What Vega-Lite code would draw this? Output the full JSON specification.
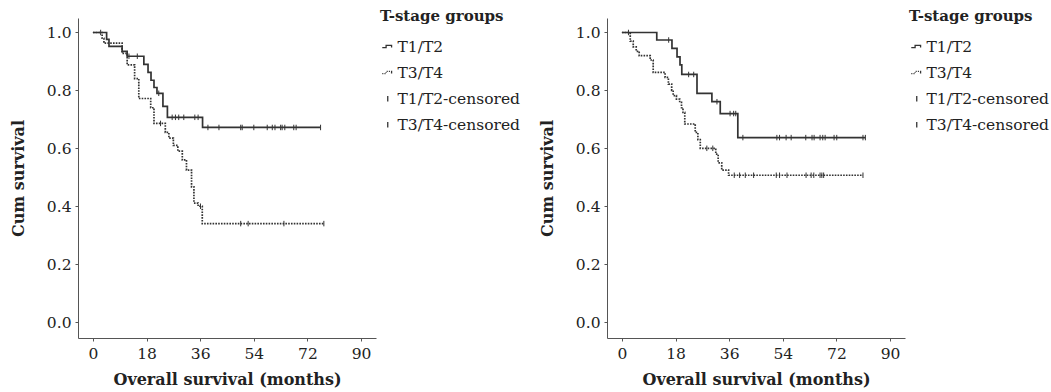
{
  "$schema": "https://vega.github.io/schema/vega-lite/v6.json",
  "padding": {"left": 10, "top": 9, "right": 0, "bottom": 5},
  "spacing": 19,
  "config": {
    "view": {"stroke": null},
    "font": "DejaVu Serif",
    "axis": {
      "grid": false, "domainColor": "#555", "tickColor": "#555", "tickSize": 3,
      "labelFont": "DejaVu Serif", "labelFontSize": 15.5, "labelColor": "#222",
      "titleFont": "DejaVu Serif", "titleFontSize": 16, "titleFontWeight": "bold", "titleColor": "#222"
    }
  },
  "datasets": {
    "curves": [
      {"p":"A","g":"T1/T2","t":0,"s":1},{"p":"A","g":"T1/T2","t":4.6,"s":0.976},{"p":"A","g":"T1/T2","t":5.4,"s":0.952},{"p":"A","g":"T1/T2","t":9.8,"s":0.935},{"p":"A","g":"T1/T2","t":11.5,"s":0.918},{"p":"A","g":"T1/T2","t":17.1,"s":0.89},{"p":"A","g":"T1/T2","t":18.5,"s":0.862},{"p":"A","g":"T1/T2","t":19.5,"s":0.835},{"p":"A","g":"T1/T2","t":20.5,"s":0.81},{"p":"A","g":"T1/T2","t":21.5,"s":0.79},{"p":"A","g":"T1/T2","t":23.5,"s":0.745},{"p":"A","g":"T1/T2","t":25,"s":0.707},{"p":"A","g":"T1/T2","t":36.8,"s":0.672},{"p":"A","g":"T1/T2","t":76.4,"s":0.672},
      {"p":"A","g":"T3/T4","t":0,"s":1},{"p":"A","g":"T3/T4","t":3.1,"s":0.98},{"p":"A","g":"T3/T4","t":3.7,"s":0.963},{"p":"A","g":"T3/T4","t":9.8,"s":0.928},{"p":"A","g":"T3/T4","t":11.5,"s":0.888},{"p":"A","g":"T3/T4","t":14,"s":0.841},{"p":"A","g":"T3/T4","t":15.4,"s":0.772},{"p":"A","g":"T3/T4","t":19.4,"s":0.74},{"p":"A","g":"T3/T4","t":20.5,"s":0.686},{"p":"A","g":"T3/T4","t":24.3,"s":0.655},{"p":"A","g":"T3/T4","t":25.5,"s":0.635},{"p":"A","g":"T3/T4","t":27,"s":0.61},{"p":"A","g":"T3/T4","t":28.5,"s":0.59},{"p":"A","g":"T3/T4","t":30,"s":0.56},{"p":"A","g":"T3/T4","t":31.4,"s":0.525},{"p":"A","g":"T3/T4","t":33.1,"s":0.467},{"p":"A","g":"T3/T4","t":33.9,"s":0.411},{"p":"A","g":"T3/T4","t":35.3,"s":0.4},{"p":"A","g":"T3/T4","t":36.7,"s":0.34},{"p":"A","g":"T3/T4","t":77.5,"s":0.34},
      {"p":"B","g":"T1/T2","t":0,"s":1},{"p":"B","g":"T1/T2","t":11.7,"s":0.974},{"p":"B","g":"T1/T2","t":16.8,"s":0.945},{"p":"B","g":"T1/T2","t":18.5,"s":0.916},{"p":"B","g":"T1/T2","t":19.5,"s":0.888},{"p":"B","g":"T1/T2","t":20.1,"s":0.855},{"p":"B","g":"T1/T2","t":25.2,"s":0.79},{"p":"B","g":"T1/T2","t":30.2,"s":0.761},{"p":"B","g":"T1/T2","t":33,"s":0.72},{"p":"B","g":"T1/T2","t":38.9,"s":0.637},{"p":"B","g":"T1/T2","t":81.7,"s":0.637},
      {"p":"B","g":"T3/T4","t":0,"s":1},{"p":"B","g":"T3/T4","t":2.8,"s":0.97},{"p":"B","g":"T3/T4","t":3.8,"s":0.95},{"p":"B","g":"T3/T4","t":4.8,"s":0.935},{"p":"B","g":"T3/T4","t":5.8,"s":0.92},{"p":"B","g":"T3/T4","t":9.5,"s":0.905},{"p":"B","g":"T3/T4","t":10.5,"s":0.862},{"p":"B","g":"T3/T4","t":14.5,"s":0.845},{"p":"B","g":"T3/T4","t":15.6,"s":0.822},{"p":"B","g":"T3/T4","t":16.7,"s":0.8},{"p":"B","g":"T3/T4","t":17.2,"s":0.782},{"p":"B","g":"T3/T4","t":18.3,"s":0.77},{"p":"B","g":"T3/T4","t":19.4,"s":0.759},{"p":"B","g":"T3/T4","t":20,"s":0.74},{"p":"B","g":"T3/T4","t":20.5,"s":0.724},{"p":"B","g":"T3/T4","t":21.1,"s":0.684},{"p":"B","g":"T3/T4","t":24.6,"s":0.655},{"p":"B","g":"T3/T4","t":25.5,"s":0.63},{"p":"B","g":"T3/T4","t":26.3,"s":0.6},{"p":"B","g":"T3/T4","t":31.5,"s":0.58},{"p":"B","g":"T3/T4","t":32.3,"s":0.55},{"p":"B","g":"T3/T4","t":33.5,"s":0.525},{"p":"B","g":"T3/T4","t":35.8,"s":0.507},{"p":"B","g":"T3/T4","t":80.9,"s":0.507}
    ],
    "cens": [
      {"p":"A","g":"T1/T2-censored","t":2.6,"s":1},{"p":"A","g":"T1/T2-censored","t":12.1,"s":0.918},{"p":"A","g":"T1/T2-censored","t":14.9,"s":0.918},{"p":"A","g":"T1/T2-censored","t":22.1,"s":0.79},
      {"p":"A","g":"T1/T2-censored","t":26.6,"s":0.707},{"p":"A","g":"T1/T2-censored","t":27.7,"s":0.707},{"p":"A","g":"T1/T2-censored","t":28.8,"s":0.707},{"p":"A","g":"T1/T2-censored","t":30.5,"s":0.707},{"p":"A","g":"T1/T2-censored","t":34.2,"s":0.707},{"p":"A","g":"T1/T2-censored","t":35.3,"s":0.707},
      {"p":"A","g":"T1/T2-censored","t":38.6,"s":0.672},{"p":"A","g":"T1/T2-censored","t":42.3,"s":0.672},{"p":"A","g":"T1/T2-censored","t":49.6,"s":0.672},{"p":"A","g":"T1/T2-censored","t":50.1,"s":0.672},{"p":"A","g":"T1/T2-censored","t":54,"s":0.672},{"p":"A","g":"T1/T2-censored","t":58.5,"s":0.672},{"p":"A","g":"T1/T2-censored","t":60.2,"s":0.672},{"p":"A","g":"T1/T2-censored","t":61.1,"s":0.672},{"p":"A","g":"T1/T2-censored","t":63,"s":0.672},{"p":"A","g":"T1/T2-censored","t":63.5,"s":0.672},{"p":"A","g":"T1/T2-censored","t":64.4,"s":0.672},{"p":"A","g":"T1/T2-censored","t":67.4,"s":0.672},{"p":"A","g":"T1/T2-censored","t":68.2,"s":0.672},{"p":"A","g":"T1/T2-censored","t":76.4,"s":0.672},
      {"p":"A","g":"T3/T4-censored","t":22.7,"s":0.686},{"p":"A","g":"T3/T4-censored","t":36.1,"s":0.4},{"p":"A","g":"T3/T4-censored","t":49.6,"s":0.34},{"p":"A","g":"T3/T4-censored","t":52.1,"s":0.34},{"p":"A","g":"T3/T4-censored","t":64.1,"s":0.34},{"p":"A","g":"T3/T4-censored","t":77.5,"s":0.34},
      {"p":"B","g":"T1/T2-censored","t":2.2,"s":1},{"p":"B","g":"T1/T2-censored","t":15.7,"s":0.974},{"p":"B","g":"T1/T2-censored","t":22.4,"s":0.855},{"p":"B","g":"T1/T2-censored","t":24.1,"s":0.855},{"p":"B","g":"T1/T2-censored","t":31.9,"s":0.761},{"p":"B","g":"T1/T2-censored","t":36.3,"s":0.72},{"p":"B","g":"T1/T2-censored","t":37.5,"s":0.72},{"p":"B","g":"T1/T2-censored","t":38.2,"s":0.72},
      {"p":"B","g":"T1/T2-censored","t":40.6,"s":0.637},{"p":"B","g":"T1/T2-censored","t":52,"s":0.637},{"p":"B","g":"T1/T2-censored","t":52.9,"s":0.637},{"p":"B","g":"T1/T2-censored","t":55.1,"s":0.637},{"p":"B","g":"T1/T2-censored","t":56.8,"s":0.637},{"p":"B","g":"T1/T2-censored","t":61.7,"s":0.637},{"p":"B","g":"T1/T2-censored","t":63.8,"s":0.637},{"p":"B","g":"T1/T2-censored","t":64.5,"s":0.637},{"p":"B","g":"T1/T2-censored","t":66.5,"s":0.637},{"p":"B","g":"T1/T2-censored","t":67.4,"s":0.637},{"p":"B","g":"T1/T2-censored","t":68.2,"s":0.637},{"p":"B","g":"T1/T2-censored","t":71.2,"s":0.637},{"p":"B","g":"T1/T2-censored","t":72.1,"s":0.637},{"p":"B","g":"T1/T2-censored","t":80.9,"s":0.637},{"p":"B","g":"T1/T2-censored","t":81.7,"s":0.637},
      {"p":"B","g":"T3/T4-censored","t":28.5,"s":0.6},{"p":"B","g":"T3/T4-censored","t":30.5,"s":0.6},{"p":"B","g":"T3/T4-censored","t":37.7,"s":0.507},{"p":"B","g":"T3/T4-censored","t":39.5,"s":0.507},{"p":"B","g":"T3/T4-censored","t":41.4,"s":0.507},{"p":"B","g":"T3/T4-censored","t":44.2,"s":0.507},{"p":"B","g":"T3/T4-censored","t":51.8,"s":0.507},{"p":"B","g":"T3/T4-censored","t":52.9,"s":0.507},{"p":"B","g":"T3/T4-censored","t":55.4,"s":0.507},{"p":"B","g":"T3/T4-censored","t":61.8,"s":0.507},{"p":"B","g":"T3/T4-censored","t":63.5,"s":0.507},{"p":"B","g":"T3/T4-censored","t":64.4,"s":0.507},{"p":"B","g":"T3/T4-censored","t":66.5,"s":0.507},{"p":"B","g":"T3/T4-censored","t":67.1,"s":0.507},{"p":"B","g":"T3/T4-censored","t":67.7,"s":0.507},{"p":"B","g":"T3/T4-censored","t":80.9,"s":0.507}
    ]
  },
  "hconcat": [
    {
      "width": 298, "height": 320,
      "layer": [
        {
          "data": {"name": "curves"},
          "transform": [{"filter": "datum.p == 'A'"}],
          "mark": {"type": "line", "interpolate": "step-after", "color": "#333", "strokeWidth": 1.7},
          "encoding": {
            "x": {"field": "t", "type": "quantitative", "scale": {"domain": [-5, 95], "nice": false, "zero": false}, "axis": {"values": [0,18,36,54,72,90], "labelPadding": 5, "titlePadding": 10}, "title": "Overall survival (months)"},
            "y": {"field": "s", "type": "quantitative", "scale": {"domain": [-0.055, 1.05], "nice": false, "zero": false}, "axis": {"values": [0,0.2,0.4,0.6,0.8,1.0], "format": ".1f", "labelPadding": 4, "titlePadding": 20}, "title": "Cum survival"},
            "strokeDash": {"field": "g", "type": "nominal", "scale": {"domain": ["T1/T2","T3/T4"], "range": [[10,0],[1.6,1.2]]}, "legend": null}
          }
        },
        {
          "data": {"name": "cens"},
          "transform": [{"filter": "datum.p == 'A'"}],
          "mark": {"type": "point", "filled": false, "color": "#333", "size": 30, "strokeWidth": 1, "opacity": 1},
          "encoding": {
            "x": {"field": "t", "type": "quantitative"},
            "y": {"field": "s", "type": "quantitative"},
            "shape": {"field": "g", "type": "nominal",
              "scale": {"domain": ["T1/T2","T3/T4","T1/T2-censored","T3/T4-censored"], "range": ["M-2,0.3L-0.6,0.3L-0.6,-0.5L1.4,-0.5L1.4,0.3","M-2,0.3H-1.6M-1.2,0.3H-0.8M-0.6,0.1V-0.2M-0.4,-0.5H0M0.4,-0.5H0.8M1.2,-0.5H1.4V0.3","M0,-1L0,1","M0,-1L0,1"]},
              "legend": {"title": "T-stage groups", "orient": "none", "legendX": 302, "legendY": -9,
                "titleFont": "DejaVu Serif", "titleFontSize": 15, "titleFontWeight": "bold", "titleColor": "#222", "titlePadding": 15,
                "labelFont": "DejaVu Serif", "labelFontSize": 15.5, "labelColor": "#222", "labelOffset": 2, "rowPadding": 9,
                "symbolSize": 30, "symbolStrokeColor": "#333", "symbolStrokeWidth": 1.3}
            }
          }
        }
      ]
    },
    {
      "width": 298, "height": 320,
      "layer": [
        {
          "data": {"name": "curves"},
          "transform": [{"filter": "datum.p == 'B'"}],
          "mark": {"type": "line", "interpolate": "step-after", "color": "#333", "strokeWidth": 1.7},
          "encoding": {
            "x": {"field": "t", "type": "quantitative", "scale": {"domain": [-5, 95], "nice": false, "zero": false}, "axis": {"values": [0,18,36,54,72,90], "labelPadding": 5, "titlePadding": 10}, "title": "Overall survival (months)"},
            "y": {"field": "s", "type": "quantitative", "scale": {"domain": [-0.055, 1.05], "nice": false, "zero": false}, "axis": {"values": [0,0.2,0.4,0.6,0.8,1.0], "format": ".1f", "labelPadding": 4, "titlePadding": 20}, "title": "Cum survival"},
            "strokeDash": {"field": "g", "type": "nominal", "scale": {"domain": ["T1/T2","T3/T4"], "range": [[10,0],[1.6,1.2]]}, "legend": null}
          }
        },
        {
          "data": {"name": "cens"},
          "transform": [{"filter": "datum.p == 'B'"}],
          "mark": {"type": "point", "filled": false, "color": "#333", "size": 30, "strokeWidth": 1, "opacity": 1},
          "encoding": {
            "x": {"field": "t", "type": "quantitative"},
            "y": {"field": "s", "type": "quantitative"},
            "shape": {"field": "g", "type": "nominal",
              "scale": {"domain": ["T1/T2","T3/T4","T1/T2-censored","T3/T4-censored"], "range": ["M-2,0.3L-0.6,0.3L-0.6,-0.5L1.4,-0.5L1.4,0.3","M-2,0.3H-1.6M-1.2,0.3H-0.8M-0.6,0.1V-0.2M-0.4,-0.5H0M0.4,-0.5H0.8M1.2,-0.5H1.4V0.3","M0,-1L0,1","M0,-1L0,1"]},
              "legend": {"title": "T-stage groups", "orient": "none", "legendX": 302, "legendY": -9,
                "titleFont": "DejaVu Serif", "titleFontSize": 15, "titleFontWeight": "bold", "titleColor": "#222", "titlePadding": 15,
                "labelFont": "DejaVu Serif", "labelFontSize": 15.5, "labelColor": "#222", "labelOffset": 2, "rowPadding": 9,
                "symbolSize": 30, "symbolStrokeColor": "#333", "symbolStrokeWidth": 1.3}
            }
          }
        }
      ]
    }
  ],
  "resolve": {"scale": {"shape": "independent", "strokeDash": "independent"}, "legend": {"shape": "independent"}}
}
